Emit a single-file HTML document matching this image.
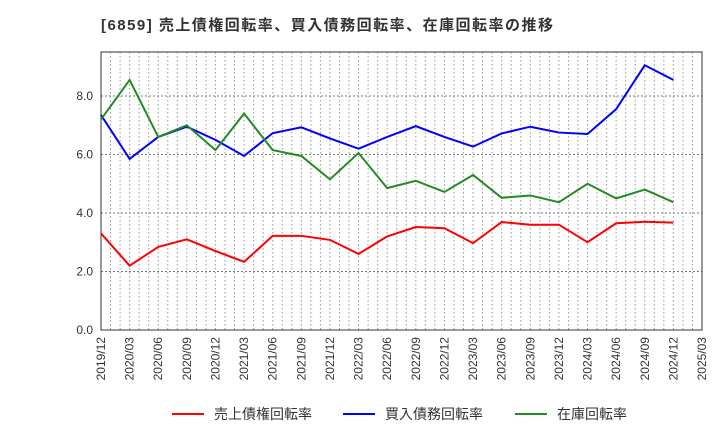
<!DOCTYPE html>
<html><head><meta charset="utf-8"><style>
body{margin:0;background:#fff;font-family:"Liberation Sans","Noto Sans CJK JP",sans-serif;}
</style></head><body>
<svg width="720" height="440" xmlns="http://www.w3.org/2000/svg" font-family="Liberation Sans, Noto Sans CJK JP, sans-serif">
<text x="101" y="30" font-size="15" font-weight="bold" fill="#333" textLength="452" lengthAdjust="spacing">[6859]  売上債権回転率、買入債務回転率、在庫回転率の推移</text>
<g id="grid"></g>
<g id="axes"></g>
<g id="series"></g>
<g id="legend"></g>
</svg>
<script>
const categories=["2019/12","2020/03","2020/06","2020/09","2020/12","2021/03","2021/06","2021/09","2021/12","2022/03","2022/06","2022/09","2022/12","2023/03","2023/06","2023/09","2023/12","2024/03","2024/06","2024/09","2024/12","2025/03"];
const receivables=[3.3,2.2,2.84,3.1,2.7,2.33,3.22,3.22,3.08,2.6,3.2,3.52,3.48,2.97,3.69,3.6,3.6,3.0,3.65,3.7,3.67];
const payables=[7.35,5.85,6.6,6.95,6.5,5.95,6.73,6.93,6.55,6.2,6.6,6.97,6.6,6.27,6.72,6.95,6.75,6.7,7.55,9.05,8.55];
const inventory=[7.2,8.55,6.6,7.0,6.15,7.4,6.15,5.95,5.15,6.05,4.85,5.1,4.72,5.3,4.52,4.6,4.37,5.0,4.5,4.8,4.37];
const yTicks=[0,2,4,6,8];
const yTickLabels=["0.0","2.0","4.0","6.0","8.0"];
const NS="http://www.w3.org/2000/svg";
const L=101,R=702,T=52,B=330;
const xs=i=>L+i*(R-L)/(categories.length-1);
const ys=v=>B-v*29.25;
function mk(tag,attrs,parent){const e=document.createElementNS(NS,tag);for(const k in attrs)e.setAttribute(k,attrs[k]);document.getElementById(parent).appendChild(e);return e;}
for(let m=1;m<(categories.length-1)*3;m++){const x=L+m*(R-L)/((categories.length-1)*3);
const g=mk("line",{x1:x,x2:x,y1:T,y2:B,stroke:"#999","stroke-dasharray":"1.5,2.5","stroke-width":1},"grid");

}
yTicks.forEach((v,i)=>{const y=ys(v);
const g=mk("line",{x1:L,x2:R,y1:y,y2:y,stroke:"#777","stroke-dasharray":"2,2","stroke-width":1},"grid");


const t=mk("text",{x:L-8,y:y+4,"text-anchor":"end","font-size":12,fill:"#333"},"axes");t.textContent=yTickLabels[i];

});
const fr=mk("rect",{x:L,y:T,width:R-L,height:B-T,fill:"none",stroke:"#333","stroke-width":1},"axes");


categories.forEach((c,i)=>{const x=xs(i);
const t=mk("text",{x:0,y:0,"text-anchor":"end","font-size":12,fill:"#333",transform:`translate(${x+4},337) rotate(-90)`},"axes");t.textContent=c;

});
[[receivables,"#ff0000","receivables-line"],[payables,"#0000ff","payables-line"],[inventory,"#228b22","inventory-line"]].forEach(([d,c,n])=>{
const p=mk("polyline",{points:d.map((v,i)=>xs(i)+","+ys(v)).join(" "),fill:"none",stroke:c,"stroke-width":2},"series");

});
[["売上債権回転率","#ff0000",172],["買入債務回転率","#0000ff",343],["在庫回転率","#228b22",515]].forEach(([t,c,x])=>{
const l=mk("line",{x1:x,x2:x+32,y1:414,y2:414,stroke:c,"stroke-width":2},"legend");


const tx=mk("text",{x:x+42,y:419,"font-size":14,fill:"#333"},"legend");tx.textContent=t;

});
</script>
</body></html>
